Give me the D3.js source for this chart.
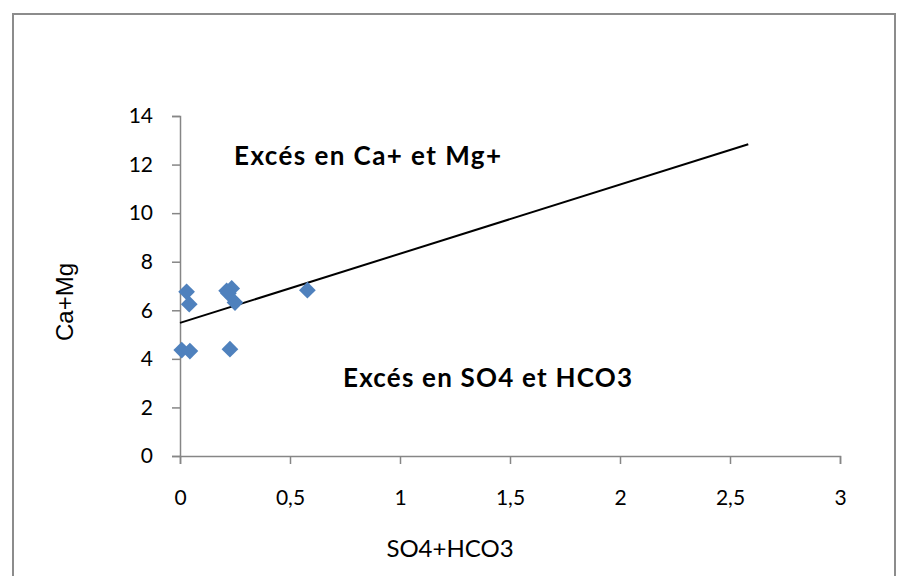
<!DOCTYPE html>
<html><head><meta charset="utf-8">
<script src="https://cdn.jsdelivr.net/npm/d3@7"></script>
<style>body{margin:0;background:#fff}svg{display:block}</style>
</head><body>
<svg id="c" width="903" height="576"></svg>
<script>
const sampleX = [0.030, 0.042, 0.008, 0.045, 0.227, 0.212, 0.235, 0.250, 0.220, 0.579];
const sampleY = [6.76, 6.25, 4.36, 4.32, 4.40, 6.80, 6.90, 6.32, 6.70, 6.83];
const trendX = [0, 2.583];
const trendY = [5.48, 12.84];
const xTicks = [0, 0.5, 1, 1.5, 2, 2.5, 3];
const xTickLabels = ["0", "0,5", "1", "1,5", "2", "2,5", "3"];
const yTicks = [0, 2, 4, 6, 8, 10, 12, 14];
const xTitle = "SO4+HCO3";
const yTitle = "Ca+Mg";
const noteTop = "Excés en Ca+ et Mg+";
const noteBottom = "Excés en SO4 et HCO3";

const svg = d3.select("#c");
const font = "Lato, 'Open Sans', sans-serif";
svg.append("rect").attr("x", 13).attr("y", 14).attr("width", 882).attr("height", 620)
  .attr("fill", "#fff").attr("stroke", "#8c8c8c").attr("stroke-width", 2);

const x = d3.scaleLinear().domain([0, 3]).range([180, 840]);
const y = d3.scaleLinear().domain([0, 14]).range([456, 116]);

const gx = svg.append("g").attr("transform", "translate(0,456)")
  .call(d3.axisBottom(x).tickValues(xTicks).tickFormat((d, i) => xTickLabels[i]).tickSizeOuter(0).tickSize(8).tickPadding(26));
const gy = svg.append("g").attr("transform", "translate(180,0)")
  .call(d3.axisLeft(y).tickValues(yTicks).tickSizeOuter(0).tickSize(8).tickPadding(19));
[gx, gy].forEach(g => {
  g.select(".domain").attr("stroke", "#868686").attr("stroke-width", 1.5);
  g.selectAll(".tick line").attr("stroke", "#868686").attr("stroke-width", 1.5);
  g.selectAll(".tick text").attr("fill", "#000").style("font-family", font).style("font-size", "21px");
});

svg.append("line")
  .attr("x1", x(trendX[0])).attr("y1", y(trendY[0]))
  .attr("x2", x(trendX[1])).attr("y2", y(trendY[1]))
  .attr("stroke", "#000").attr("stroke-width", 2);

const diamond = d3.symbol().type(d3.symbolSquare).size(140);
svg.append("g").selectAll("path").data(sampleX.map((v, i) => [v, sampleY[i]])).join("path")
  .attr("d", diamond)
  .attr("transform", d => `translate(${x(d[0])},${y(d[1])}) rotate(45)`)
  .attr("fill", "#4F81BD");

svg.append("text").attr("x", 234).attr("y", 165).text(noteTop)
  .attr("textLength", 267).attr("lengthAdjust", "spacing")
  .style("font-family", font).style("font-weight", "bold").style("font-size", "26px");
svg.append("text").attr("x", 343).attr("y", 387).text(noteBottom)
  .attr("textLength", 289).attr("lengthAdjust", "spacing")
  .style("font-family", font).style("font-weight", "bold").style("font-size", "26px");

svg.append("text").attr("x", 450).attr("y", 557).attr("text-anchor", "middle").text(xTitle)
  .style("font-family", font).style("font-size", "24px");
svg.append("text").attr("transform", "translate(73,302) rotate(-90)").attr("text-anchor", "middle").text(yTitle)
  .style("font-family", "'Liberation Sans', Arial, sans-serif").style("font-size", "24px");
</script>
</body></html>
